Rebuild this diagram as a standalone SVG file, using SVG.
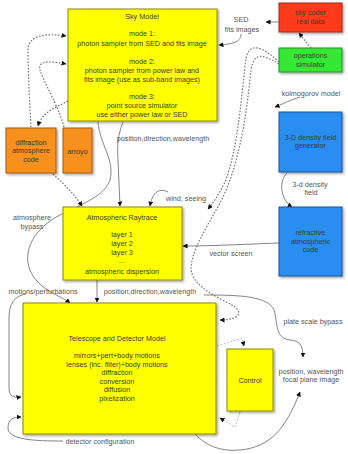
<svg xmlns="http://www.w3.org/2000/svg" width="348" height="454" viewBox="0 0 348 454">
<defs>
<filter id="sh" x="-10%" y="-10%" width="130%" height="130%">
<feDropShadow dx="1.5" dy="1.5" stdDeviation="1" flood-color="#000" flood-opacity="0.35"/>
</filter>
<marker id="ah" viewBox="0 0 10 10" refX="9" refY="5" markerWidth="5" markerHeight="5" orient="auto" markerUnits="userSpaceOnUse">
<path d="M0,0 L10,5 L0,10 z" fill="#111"/>
</marker>
</defs>
<style>
text{font-family:"Liberation Sans",Arial,sans-serif;font-size:7.2px;text-anchor:middle}
.bt{fill:#3d3d25}
.lb{fill:#555}
.yel{fill:#ffff00;stroke:#8a8a00;stroke-width:1}
.red{fill:#ff3a1e;stroke:#a02810;stroke-width:1}
.grn{fill:#36e836;stroke:#20901e;stroke-width:1}
.blu{fill:#2a8ef0;stroke:#17559a;stroke-width:1}
.org{fill:#f7901e;stroke:#a05a10;stroke-width:1}
.s{fill:none;stroke:#666;stroke-width:0.8}
.d{fill:none;stroke:#777;stroke-width:1.2;stroke-dasharray:1.6 1.6}
.dl{fill:none;stroke:#bbb;stroke-width:1;stroke-dasharray:2 1.5}
</style>
<g id="connectors">
<path class="s" d="M279,22 L266,22" marker-end="url(#ah)"/>
<path class="s" d="M241,34 C 241,41 235,44 219,45" marker-end="url(#ah)"/>
<path class="d" d="M311,48 L299,33" marker-end="url(#ah)"/>
<path class="d" d="M279,62 C 262,46 250,42 246,58 C 242,90 238,150 225,182 C 218,196 213,203 208,209" marker-end="url(#ah)"/>
<path class="d" d="M279,64 C 262,54 254,52 251,70 C 247,110 240,165 220,203 C 205,230 192,250 191,268 C 191,285 215,296 232,305 C 244,312 240,320 220,320" marker-end="url(#ah)"/>
<path class="s" d="M300,97 C 290,100 283,104 275,107" marker-end="url(#ah)"/>
<path class="s" d="M287,173 C 278,182 281,200 292,207" marker-end="url(#ah)"/>
<path class="s" d="M279,243 C 250,244 215,246 183,246" marker-end="url(#ah)"/>
<path class="s" d="M123,122 C 118,135 117,145 118,160 L 120,206" marker-end="url(#ah)"/>
<path class="s" d="M98,122 C 100,145 115,160 110,180 C 105,195 85,203 60,215 C 35,228 22,250 30,270 C 38,290 60,295 70,303" marker-end="url(#ah)"/>
<path class="s" d="M168,192 C 158,187 152,194 150,206" marker-end="url(#ah)"/>
<path class="s" d="M97,280 L97,302" marker-end="url(#ah)"/>
<path class="s" d="M204,295 C 240,295 268,296 274,310 C 278,322 274,338 290,340 C 300,341 303,345 303,357" marker-end="url(#ah)"/>
<path class="s" d="M195,434 C 205,445 220,452 240,450 C 270,447 285,430 300,392" marker-end="url(#ah)"/>
<path class="s" d="M26,294 C 14,296 9,304 9,318 L 9,388 C 9,396 13,398 21,397" marker-end="url(#ah)"/>
<path class="s" d="M63,441 C 35,441 8,440 8,428 C 8,420 12,417 21,417" marker-end="url(#ah)"/>
<path class="d" d="M31,127 C 30,110 28,70 28,50 C 28,38 40,32 66,36" marker-end="url(#ah)"/>
<path class="d" d="M64,127 C 58,105 45,85 40,70 C 38,62 45,60 66,64" marker-end="url(#ah)"/>
<path class="d" d="M68,101 C 55,108 42,112 38,126" marker-end="url(#ah)"/>
<path class="d" d="M53,174 C 65,185 75,195 82,206" marker-end="url(#ah)"/>
<path class="dl" d="M217,346 L242,338 L244,346" marker-end="url(#ah)"/>
<path class="dl" d="M240,412 L235,427 L220,418" marker-end="url(#ah)"/>
</g>
<g id="labels">
<text class="lb" x="241" y="21.5">SED</text>
<text class="lb" x="242" y="31.5">fits images</text>
<text class="lb" x="311" y="95.5">kolmogorov model</text>
<text class="lb" x="310" y="186.5">3-d density</text>
<text class="lb" x="311" y="195">field</text>
<text class="lb" x="231" y="256">vector screen</text>
<text class="lb" x="186" y="200.5">wind, seeing</text>
<text class="lb" x="163" y="140.5">position,direction,wavelength</text>
<text class="lb" x="32" y="219.5">atmosphere</text>
<text class="lb" x="32" y="229">bypass</text>
<text class="lb" x="43" y="293.5">motions/perturbations</text>
<text class="lb" x="150" y="293.5">position,direction,wavelength</text>
<text class="lb" x="313" y="323.5">plate scale bypass</text>
<text class="lb" x="311" y="373.5">position, wavelength</text>
<text class="lb" x="311" y="382">focal plane image</text>
<text class="lb" x="100" y="444">detector configuration</text>
</g>
<g id="sky-model">
<rect class="yel" x="68" y="9" width="149" height="112" filter="url(#sh)"/>
<text class="bt" x="142" y="18.5">Sky Model</text>
<text class="bt" x="142" y="35.5">mode 1:</text>
<text class="bt" x="142" y="45.5">photon sampler from SED and fits image</text>
<text class="bt" x="142" y="63.5">mode 2:</text>
<text class="bt" x="142" y="72.5">photon sampler from power law and</text>
<text class="bt" x="142" y="81.5">fits image (use as sub-band images)</text>
<text class="bt" x="142" y="98.5">mode 3:</text>
<text class="bt" x="142" y="108">point source simulator</text>
<text class="bt" x="142" y="116.5">use either power law or SED</text>
</g>
<g id="sky-coder">
<rect class="red" x="279" y="3" width="63" height="29" filter="url(#sh)"/>
<text class="bt" x="310.5" y="15">sky coder</text>
<text class="bt" x="310.5" y="24">real data</text>
</g>
<g id="operations-simulator">
<rect class="grn" x="279" y="48" width="63" height="24" filter="url(#sh)"/>
<text class="bt" x="310.5" y="58">operations</text>
<text class="bt" x="310.5" y="66.5">simulator</text>
</g>
<g id="density-generator">
<rect class="blu" x="279" y="112" width="63" height="60" filter="url(#sh)"/>
<text class="bt" x="310.5" y="139.5">3-D density field</text>
<text class="bt" x="310.5" y="148">generator</text>
</g>
<g id="refractive-code">
<rect class="blu" x="279" y="207" width="63" height="69" filter="url(#sh)"/>
<text class="bt" x="310.5" y="235">refractive</text>
<text class="bt" x="310.5" y="243.5">atmospheric</text>
<text class="bt" x="310.5" y="252">code</text>
</g>
<g id="diffraction-code">
<rect class="org" x="6" y="128" width="50" height="45" filter="url(#sh)"/>
<text class="bt" x="31" y="144.5">diffraction</text>
<text class="bt" x="31" y="153">atmosphere</text>
<text class="bt" x="31" y="161.5">code</text>
</g>
<g id="arroyo">
<rect class="org" x="63" y="128" width="29" height="45" filter="url(#sh)"/>
<text class="bt" x="77.5" y="153.5">arroyo</text>
</g>
<g id="atmospheric-raytrace">
<rect class="yel" x="63" y="207" width="119" height="73" filter="url(#sh)"/>
<text class="bt" x="122" y="219.5">Atmospheric Raytrace</text>
<text class="bt" x="122" y="236.5">layer 1</text>
<text class="bt" x="122" y="245.5">layer 2</text>
<text class="bt" x="122" y="254.5">layer 3</text>
<text class="bt" x="122" y="263">...</text>
<text class="bt" x="122" y="273.5">atmospheric dispersion</text>
</g>
<g id="telescope-detector">
<rect class="yel" x="23" y="303" width="193" height="131" filter="url(#sh)"/>
<text class="bt" x="117" y="340.5">Telescope and Detector Model</text>
<text class="bt" x="117" y="358">mirrors+pert+body motions</text>
<text class="bt" x="117" y="366.5">lenses (inc. filter)+body motions</text>
<text class="bt" x="117" y="375">diffraction</text>
<text class="bt" x="117" y="383.5">conversion</text>
<text class="bt" x="117" y="392">diffusion</text>
<text class="bt" x="117" y="400.5">pixelization</text>
</g>
<g id="control">
<rect class="yel" x="227" y="349" width="46" height="62" filter="url(#sh)"/>
<text class="bt" x="250" y="382.5">Control</text>
</g>
</svg>
